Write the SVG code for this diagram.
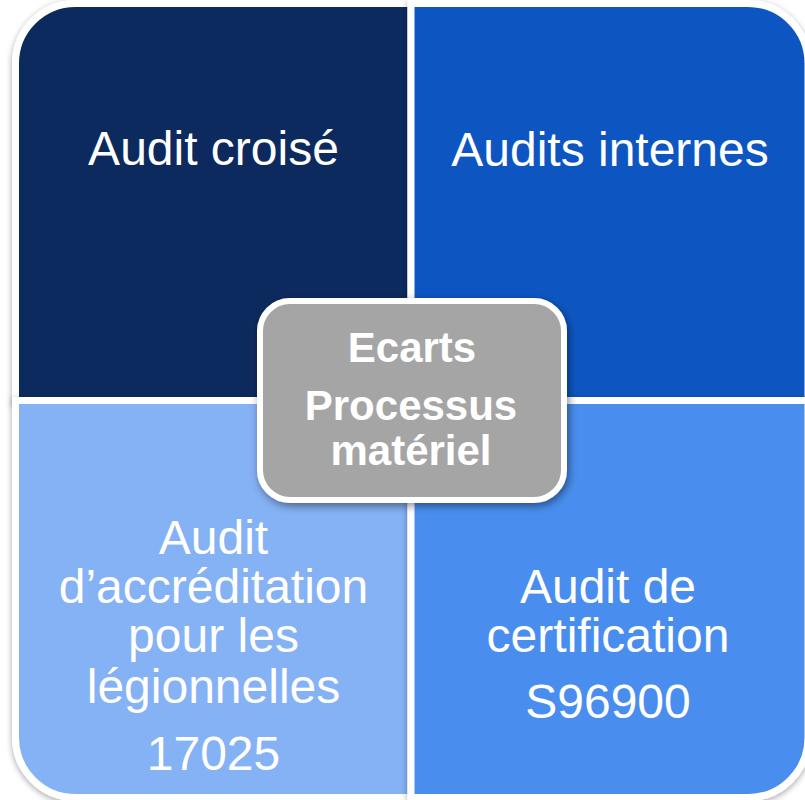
<svg xmlns="http://www.w3.org/2000/svg" width="805" height="800" viewBox="0 0 805 800">
<defs>
<filter id="sh" x="-10%" y="-10%" width="120%" height="120%">
<feDropShadow dx="0" dy="2" stdDeviation="3" flood-color="#000" flood-opacity="0.35"/>
</filter>
<filter id="sh2" x="-15%" y="-15%" width="130%" height="130%">
<feDropShadow dx="2" dy="3" stdDeviation="4" flood-color="#000" flood-opacity="0.45"/>
</filter>
<style>
.q{stroke:#fff;stroke-width:7;filter:url(#sh)}
.t{font-family:"Liberation Sans",Arial,sans-serif;font-size:48px;fill:#fff;text-anchor:middle}
.c{font-family:"Liberation Sans",Arial,sans-serif;font-size:42px;font-weight:bold;fill:#fff;text-anchor:middle}
</style>
</defs>
<rect width="805" height="800" fill="#fff"/>
<g id="tl">
<path class="q" fill="#0a2a5f" d="M15.5,400.5 V63.5 A60,60 0 0 1 75.5,3.5 H411 V400.5 Z"/>
<text class="t" x="213.5" y="165">Audit croisé</text>
</g>
<g id="tr">
<path class="q" fill="#0e57c1" d="M411,3.5 H748 A60,60 0 0 1 808,63.5 V400.5 H411 Z"/>
<text class="t" x="610" y="166">Audits internes</text>
</g>
<g id="bl">
<path class="q" fill="#85b1f5" d="M15.5,400.5 H411 V797.5 H75.5 A60,60 0 0 1 15.5,737.5 Z"/>
<text class="t" x="213.5" y="554">Audit</text>
<text class="t" x="213.5" y="603">d’accréditation</text>
<text class="t" x="213.5" y="652">pour les</text>
<text class="t" x="213.5" y="703">légionnelles</text>
<text class="t" x="213.5" y="770">17025</text>
</g>
<g id="br">
<path class="q" fill="#4a8eee" d="M411,400.5 H808 V737.5 A60,60 0 0 1 748,797.5 H411 Z"/>
<text class="t" x="608" y="603">Audit de</text>
<text class="t" x="608" y="652">certification</text>
<text class="t" x="608" y="718">S96900</text>
</g>
<g id="connectors"></g>
<g id="center">
<rect x="260" y="301" width="304" height="199" rx="30" ry="30" fill="#a5a5a5" stroke="#fff" stroke-width="6" filter="url(#sh2)"/>
<text class="c" x="412" y="362">Ecarts</text>
<text class="c" x="411" y="420">Processus</text>
<text class="c" x="411" y="465">matériel</text>
</g>
</svg>
